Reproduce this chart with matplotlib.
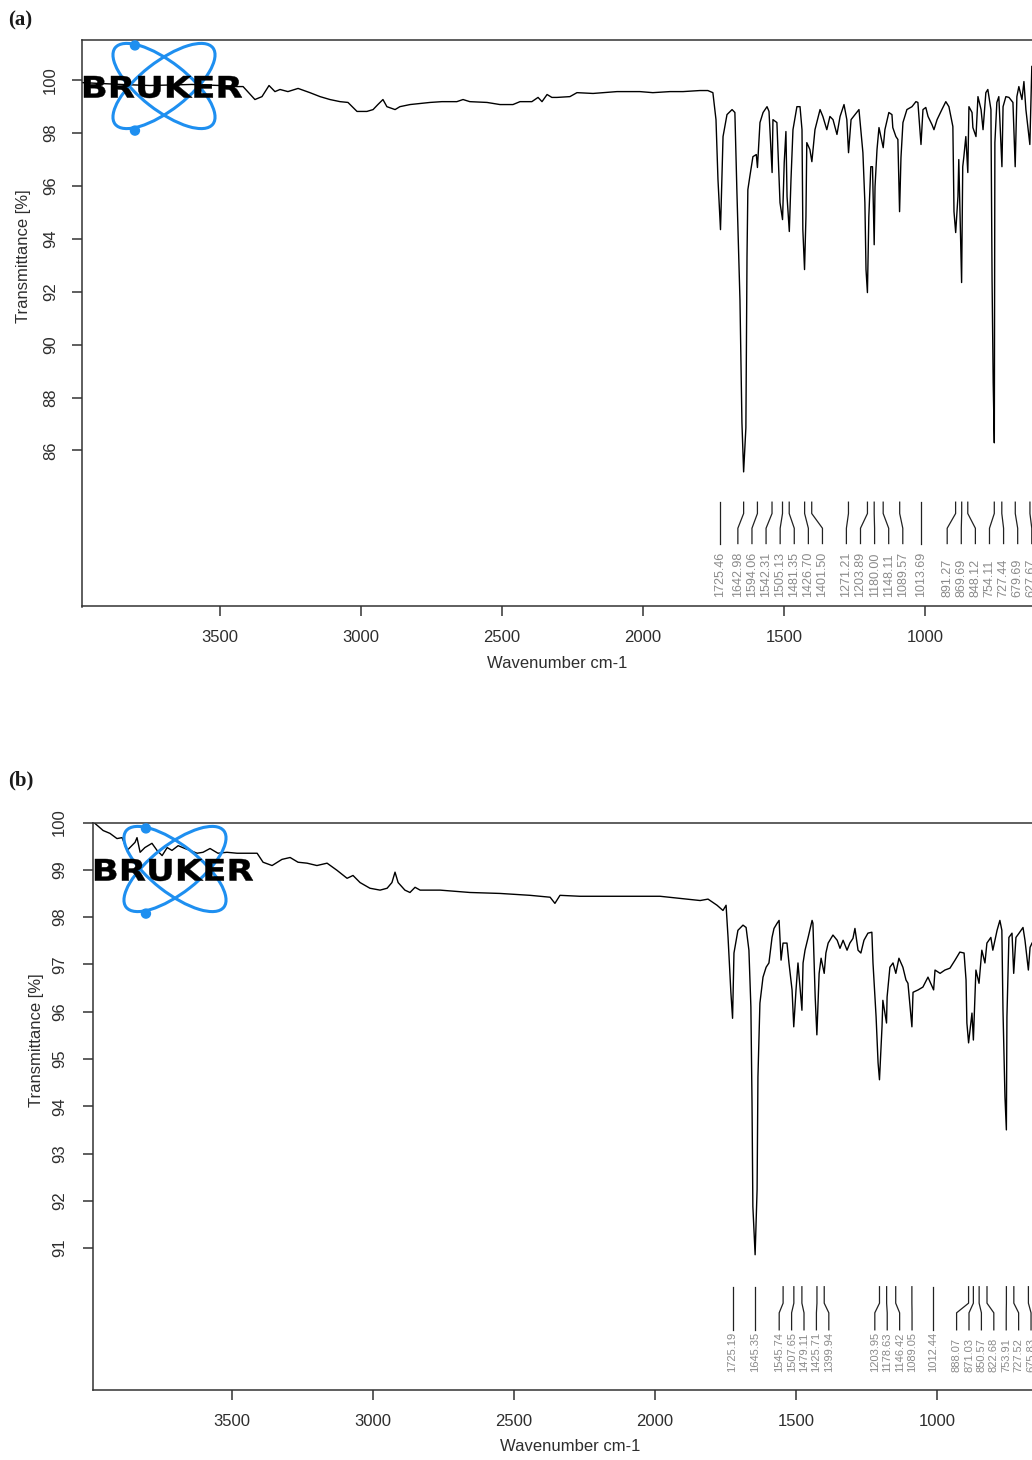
#!/usr/bin/env python
# -*- coding: utf-8 -*-

"""
FT-IR spectra (a) and (b), Bruker OPUS style
"""

import matplotlib
matplotlib.use('Agg')
import matplotlib.pyplot as plt
import matplotlib.transforms as mtransforms
from matplotlib.patches import Ellipse, Circle, PathPatch
from matplotlib.textpath import TextPath
from matplotlib.font_manager import FontProperties
import numpy as np

plt.rcParams['font.family'] = ['Liberation Sans', 'DejaVu Sans']

# ---------------- data ----------------
# spectrum (a): wavenumber [cm-1], transmittance [%]
a_wn = [3989, 3850, 3748, 3600, 3500, 3440, 3418, 3376, 3351, 3326, 3305, 3287, 3259, 3223,
        3181, 3145, 3110, 3074, 3046, 3014, 2979, 2957, 2940, 2922, 2908, 2879, 2862, 2826,
        2791, 2755, 2713, 2660, 2638, 2614, 2553, 2507, 2461, 2436, 2394, 2372, 2358, 2340,
        2323, 2305, 2259, 2234, 2177, 2142, 2092, 2046, 2011, 1965, 1904, 1858, 1798, 1770,
        1752, 1741, 1734, 1725, 1716, 1702, 1684, 1674, 1667, 1656, 1649, 1643, 1635, 1631,
        1628, 1621, 1610, 1598, 1594, 1585, 1574, 1560, 1553, 1542, 1539, 1525, 1514, 1505,
        1499, 1493, 1489, 1481, 1475, 1468, 1454, 1443, 1436, 1433, 1427, 1422, 1419, 1408,
        1401, 1390, 1372, 1362, 1348, 1337, 1326, 1312, 1301, 1287, 1277, 1271, 1262, 1248,
        1234, 1220, 1213, 1209, 1204, 1199, 1192, 1186, 1180, 1177, 1170, 1163, 1148, 1142,
        1128, 1117, 1114, 1103, 1096, 1090, 1085, 1078, 1064, 1046, 1032, 1025, 1014, 1007,
        997, 989, 975, 968, 957, 940, 926, 915, 901, 897, 891, 883, 880, 870, 866, 862, 855,
        848, 844, 833, 830, 819, 812, 801, 794, 784, 777, 766, 762, 758, 754, 752, 745, 738,
        727, 723, 713, 702, 688, 680, 674, 667, 656, 649, 642, 628, 621]
a_tr = [99.91, 99.84, 99.80, 99.84, 99.80, 99.76, 99.76, 99.27, 99.38, 99.80, 99.57, 99.65,
        99.57, 99.69, 99.53, 99.38, 99.27, 99.19, 99.16, 98.82, 98.82, 98.89, 99.08, 99.27,
        99.00, 98.89, 99.00, 99.08, 99.12, 99.16, 99.19, 99.19, 99.27, 99.19, 99.16, 99.08,
        99.08, 99.19, 99.19, 99.35, 99.19, 99.46, 99.35, 99.35, 99.38, 99.53, 99.50, 99.53,
        99.57, 99.57, 99.57, 99.53, 99.57, 99.57, 99.61, 99.61, 99.53, 98.51, 96.25, 94.35,
        97.87, 98.70, 98.89, 98.78, 95.86, 91.70, 87.05, 85.19, 86.86, 93.33, 95.86, 96.36,
        97.11, 97.19, 96.70, 98.40, 98.78, 99.00, 98.82, 96.51, 98.51, 98.40, 95.37, 94.73,
        96.89, 98.06, 95.60, 94.28, 96.25, 98.13, 99.00, 99.00, 98.13, 94.35, 92.84, 94.84,
        97.64, 97.38, 96.92, 98.13, 98.89, 98.63, 98.13, 98.63, 98.51, 97.95, 98.63, 99.08,
        98.51, 97.26, 98.51, 98.70, 98.89, 97.26, 95.37, 92.84, 91.97, 94.84, 96.73, 96.73,
        93.78, 95.98, 97.38, 98.21, 97.45, 98.13, 98.78, 98.70, 98.21, 97.87, 97.76, 95.03,
        97.08, 98.40, 98.89, 99.00, 99.19, 99.16, 97.57, 98.89, 98.97, 98.63, 98.32, 98.13,
        98.51, 98.89, 99.19, 99.00, 98.25, 95.03, 94.24, 95.60, 97.00, 92.35, 96.73, 97.11,
        97.87, 96.51, 99.00, 98.78, 98.21, 97.87, 99.38, 98.89, 98.13, 99.53, 99.65, 98.89,
        92.46, 88.56, 86.29, 97.64, 99.16, 99.38, 96.73, 99.00, 99.38, 99.35, 99.16, 96.73,
        99.38, 99.76, 99.27, 99.95, 98.89, 97.57, 100.52]
a_peaks = [1725.46, 1642.98, 1594.06, 1542.31, 1505.13, 1481.35, 1426.70, 1401.50, 1271.21,
           1203.89, 1180.00, 1148.11, 1089.57, 1013.69, 891.27, 869.69, 848.12, 754.11,
           727.44, 679.69, 627.67]

# spectrum (b)
b_wn = [3986, 3957, 3933, 3908, 3890, 3872, 3844, 3837, 3826, 3809, 3784, 3766, 3748, 3730,
        3713, 3691, 3667, 3649, 3624, 3603, 3578, 3550, 3518, 3482, 3447, 3411, 3390, 3358,
        3323, 3294, 3266, 3234, 3199, 3163, 3128, 3092, 3071, 3046, 3011, 2975, 2950, 2933,
        2922, 2911, 2887, 2869, 2851, 2833, 2762, 2656, 2550, 2443, 2372, 2355, 2337, 2266,
        2124, 1982, 1840, 1812, 1780, 1759, 1748, 1741, 1731, 1725, 1720, 1706, 1688, 1677,
        1667, 1660, 1656, 1653, 1645, 1638, 1635, 1628, 1617, 1606, 1596, 1585, 1578, 1567,
        1560, 1553, 1546, 1532, 1525, 1514, 1508, 1500, 1493, 1479, 1475, 1468, 1457, 1443,
        1440, 1432, 1426, 1418, 1411, 1400, 1394, 1386, 1369, 1354, 1344, 1333, 1319, 1309,
        1298, 1291, 1280, 1270, 1259, 1245, 1231, 1227, 1216, 1209, 1204, 1195, 1192, 1179,
        1177, 1167, 1156, 1146, 1135, 1121, 1110, 1103, 1089, 1085, 1067, 1050, 1032, 1012,
        1007, 989, 972, 954, 936, 919, 904, 897, 894, 888, 876, 871, 862, 851, 841, 830, 823,
        809, 802, 787, 777, 770, 766, 759, 754, 752, 745, 734, 728, 720, 709, 695, 688, 676,
        670, 663]
b_tr = [99.98, 99.83, 99.77, 99.66, 99.68, 99.41, 99.58, 99.68, 99.37, 99.47, 99.56, 99.41,
        99.30, 99.47, 99.41, 99.51, 99.45, 99.41, 99.35, 99.37, 99.45, 99.35, 99.37, 99.35,
        99.35, 99.35, 99.16, 99.09, 99.22, 99.26, 99.16, 99.14, 99.09, 99.14, 98.99, 98.82,
        98.88, 98.73, 98.61, 98.57, 98.61, 98.73, 98.95, 98.73, 98.57, 98.52, 98.63, 98.57,
        98.57, 98.52, 98.50, 98.46, 98.42, 98.29, 98.46, 98.44, 98.44, 98.44, 98.35, 98.38,
        98.25, 98.14, 98.25, 97.57, 96.41, 95.86, 97.24, 97.72, 97.83, 97.78, 97.30, 96.10,
        94.07, 91.88, 90.86, 92.24, 94.62, 96.18, 96.73, 96.94, 97.03, 97.57, 97.76, 97.87,
        97.93, 97.09, 97.45, 97.45, 97.03, 96.46, 95.68, 96.46, 97.03, 96.03, 97.03, 97.30,
        97.57, 97.93, 97.87, 96.31, 95.51, 96.81, 97.13, 96.81, 97.24, 97.45, 97.62, 97.51,
        97.34, 97.51, 97.30, 97.45, 97.55, 97.76, 97.30, 97.24, 97.51, 97.66, 97.68, 97.03,
        95.89, 94.92, 94.56, 95.68, 96.24, 95.76, 96.31, 96.94, 97.03, 96.81, 97.13, 96.94,
        96.67, 96.60, 95.68, 96.41, 96.46, 96.52, 96.73, 96.46, 96.88, 96.81, 96.88, 96.92,
        97.09, 97.26, 97.24, 96.67, 95.76, 95.34, 95.97, 95.40, 96.88, 96.60, 97.30, 97.03,
        97.45, 97.57, 97.30, 97.72, 97.93, 97.72, 96.03, 94.20, 93.50, 95.89, 97.57, 97.66,
        96.81, 97.57, 97.66, 97.78, 97.51, 96.88, 97.36, 97.45]
b_peaks = [1725.19, 1645.35, 1545.74, 1507.65, 1479.11, 1425.71, 1399.94, 1203.95, 1178.63,
           1146.42, 1089.05, 1012.44, 888.07, 871.03, 850.57, 822.68, 753.91, 727.52, 675.83]

# ---------------- layout ----------------
W, H = 1032, 1460
LINE_COLOR = '#333333'
LOGO_BLUE = '#1e8ff0'


def px_axes(fig, left, top, right, bottom, **kw):
    """按像素位置创建坐标轴"""
    return fig.add_axes([left / W, 1 - bottom / H, (right - left) / W, (bottom - top) / H], **kw)


def spread_labels(peaks, gap):
    """峰标签位置：相互重叠的标签成组居中排列"""
    groups = [[p] for p in sorted(peaks)]

    def bounds(g):
        lo = np.mean(g) - (len(g) - 1) * gap / 2
        return lo, lo + (len(g) - 1) * gap

    changed = True
    while changed:
        changed = False
        for i in range(len(groups) - 1):
            if bounds(groups[i])[1] + gap > bounds(groups[i + 1])[0]:
                groups[i] = groups[i] + groups.pop(i + 1)
                changed = True
                break
    pos = {}
    for g in groups:
        lo = bounds(g)[0]
        for k, p in enumerate(g):
            pos[p] = lo + k * gap
    return pos


def draw_peak_labels(ax, peaks, gap, y_line, y_text, font_size):
    """绘制峰位置的引线和数值"""
    trans = mtransforms.blended_transform_factory(ax.transData, ax.transAxes)
    pos = spread_labels(peaks, gap)
    for p in peaks:
        lx = pos[p]
        ax.plot([p, p, lx, lx], y_line, color='#222222', lw=0.9, transform=trans, clip_on=True)
        ax.text(lx, y_text, '%.2f' % p, rotation=90, ha='center', va='bottom',
                color='#8a8a8a', fontsize=font_size, transform=trans, clip_on=True)


def draw_logo(fig, cx, cy):
    """绘制 BRUKER 标志"""
    x0, x1, y0, y1 = cx - 90, cx + 90, cy - 52, cy + 52
    lax = px_axes(fig, x0, y0, x1, y1)
    lax.set_xlim(x0, x1)
    lax.set_ylim(y1, y0)
    lax.axis('off')
    lax.patch.set_alpha(0)

    tops, bottoms = [], []
    t = np.linspace(0, 2 * np.pi, 400)
    for ang in (38, -38):
        lax.add_patch(Ellipse((cx, cy), 124, 48, angle=ang, fill=False,
                              edgecolor=LOGO_BLUE, lw=2.2))
        r = np.deg2rad(ang)
        ex = cx + 62 * np.cos(t) * np.cos(r) - 24 * np.sin(t) * np.sin(r)
        ey = cy + 62 * np.cos(t) * np.sin(r) + 24 * np.sin(t) * np.cos(r)
        tops.append((ex[np.argmin(ey)], ey.min()))
        bottoms.append((ex[np.argmax(ey)], ey.max()))
    top = min(tops, key=lambda q: q[0])
    bot = min(bottoms, key=lambda q: q[0])
    for q in (top, bot):
        lax.add_patch(Circle((q[0] + 8, q[1] + 2), 4.5, color=LOGO_BLUE))

    # BRUKER 文字，拉伸到指定框
    tp = TextPath((0, 0), 'BRUKER', size=1, prop=FontProperties(family='DejaVu Sans', weight='bold'))
    ext = tp.get_extents()
    bx0, bx1, by0, by1 = cx - 80, cx + 78, cy - 10, cy + 12
    tr = (mtransforms.Affine2D().translate(-ext.x0, -ext.y0)
          .scale((bx1 - bx0) / ext.width, -(by1 - by0) / ext.height)
          .translate(bx0, by1))
    lax.add_patch(PathPatch(tr.transform_path(tp), facecolor='black', edgecolor='black', lw=0.3))


def style_axes(ax, xlim, ylim, yticks, ytick_pad, box, xlab_px, ylab_px):
    """坐标轴样式"""
    left, top, right, bottom = box
    ax.set_xlim(*xlim)
    ax.set_ylim(*ylim)
    ax.set_xticks([3500, 3000, 2500, 2000, 1500, 1000])
    ax.set_yticks(yticks)
    ax.set_yticklabels(['%d' % v for v in yticks])
    ax.spines['right'].set_visible(False)
    for s in ('left', 'bottom', 'top'):
        ax.spines[s].set_color(LINE_COLOR)
        ax.spines[s].set_linewidth(1.1)
    ax.tick_params(direction='out', length=7, width=1.1, color=LINE_COLOR,
                   labelsize=12, labelcolor='#2e2e2e')
    ax.tick_params(axis='x', pad=10)
    ax.tick_params(axis='y', pad=ytick_pad, labelrotation=90)
    for lab in ax.get_yticklabels():
        lab.set_va('center')
    ax.set_xlabel('Wavenumber cm-1', fontsize=12, color='#2e2e2e')
    ax.set_ylabel('Transmittance [%]', fontsize=12, color='#2e2e2e')
    # 标签位置（像素 -> 坐标轴比例）
    w, h = right - left, bottom - top
    ax.xaxis.set_label_coords((xlab_px[0] - left) / w, (bottom - xlab_px[1]) / h)
    ax.yaxis.set_label_coords((ylab_px[0] - left) / w, (bottom - ylab_px[1]) / h)


fig = plt.figure(figsize=(W / 100, H / 100), dpi=100)

# ---- (a) ----
box_a = (81.5, 39.5, 1040, 606.5)
ax_a = px_axes(fig, *box_a)
ax_a.plot(a_wn, a_tr, color='black', lw=1.0)
style_axes(ax_a, (3991, 592), (80.1, 101.54), list(range(86, 101, 2)), 10, box_a,
           (557, 656), (31, 256))
draw_peak_labels(ax_a, a_peaks, 50, [0.184, 0.164, 0.138, 0.111], 0.016, 9)
draw_logo(fig, 164, 86)
fig.text(8 / W, 1 - 20 / H, '(a)', fontsize=15, fontweight='bold', va='center',
         family=['Liberation Serif', 'DejaVu Serif'], color='#1a1a1a')

# ---- (b) ----
box_b = (93.3, 822.5, 1045, 1390)
ax_b = px_axes(fig, *box_b)
ax_b.plot(b_wn, b_tr, color='black', lw=1.0)
style_axes(ax_b, (3992, 617), (88.0, 100.0), list(range(91, 101)), 12, box_b,
           (570, 1439), (44, 1040))
draw_peak_labels(ax_b, b_peaks, 44, [0.182, 0.153, 0.136, 0.106], 0.032, 8)
draw_logo(fig, 175, 869)
fig.text(8 / W, 1 - 780 / H, '(b)', fontsize=15, fontweight='bold', va='center',
         family=['Liberation Serif', 'DejaVu Serif'], color='#1a1a1a')

fig.savefig('out.png', dpi=100)
